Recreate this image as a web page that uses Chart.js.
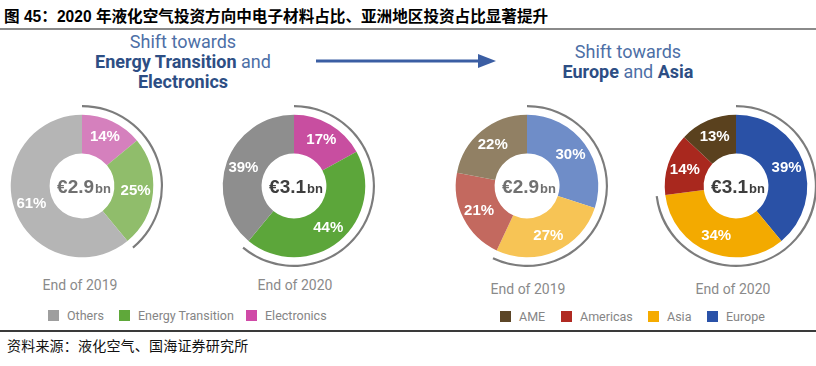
<!DOCTYPE html>
<html><head><meta charset="utf-8">
<script src="https://cdn.jsdelivr.net/npm/chart.js@4/dist/chart.umd.min.js"></script>
<style>
body{margin:0;width:816px;height:366px;background:#fff;position:relative;overflow:hidden;font-family:Roboto,"Noto Sans",sans-serif}
.abs{position:absolute;white-space:nowrap}
.title{left:4px;top:4px;font:bold 15.6px "Liberation Sans","Noto Sans CJK SC",sans-serif;color:#000}
.title .cjk{font-family:"Noto Sans CJK SC",sans-serif;font-weight:bold}
.rule1{left:0;top:28px;width:816px;height:2px;background:#8a8a8a}
.rule2{left:0;top:330px;width:816px;height:2px;background:#3a3a3a}
.source{left:7px;top:336px;font:14px "Noto Sans CJK SC",sans-serif;color:#111;line-height:18px;letter-spacing:0.2px}
.head{font-size:18px;color:#4d6fa6;text-align:center;line-height:20px;transform:translateX(-50%)}
.head b{color:#2d4e84;font-weight:bold}
.year{font-size:14px;color:#8a8a8a;transform:translateX(-50%)}
.leg{font-size:12.5px;color:#858585;line-height:14px}
.sq{position:absolute;width:11px;height:11px}
canvas{position:absolute}
</style></head><body>
<div class="abs title">图 45<span class="cjk">：</span>2020 <span class="cjk">年液化空气投资方向中电子材料占比、亚洲地区投资占比显著提升</span></div>
<div class="abs rule1"></div>
<div class="abs head" style="left:183px;top:32px">Shift towards<br><b>Energy Transition</b> and<br><b>Electronics</b></div>
<div class="abs head" style="left:628px;top:42px">Shift towards<br><b>Europe</b> and <b>Asia</b></div>
<svg class="abs" style="left:310px;top:50px" width="200" height="22"><line x1="6" y1="11" x2="172" y2="11" stroke="#3b5ea3" stroke-width="3"/><polygon points="168,4 186,11 168,18" fill="#3b5ea3"/></svg>
<canvas id="c0" width="180" height="180" style="left:-8px;top:96px"></canvas>
<canvas id="c1" width="180" height="180" style="left:204px;top:96px"></canvas>
<canvas id="c2" width="180" height="180" style="left:437px;top:96px"></canvas>
<canvas id="c3" width="180" height="180" style="left:646px;top:96px"></canvas>
<div id="years"></div>
<div id="legends"></div>
<div class="abs rule2"></div>
<div class="abs source">资料来源：液化空气、国海证券研究所</div>
<script>
// ---- data ----
const techCategories = ['Electronics', 'Energy Transition', 'Others'];
const tech2019 = [14, 25, 61];
const tech2020 = [17, 44, 39];
const regionCategories = ['Europe', 'Asia', 'Americas', 'AME'];
const region2019 = [30, 27, 21, 22];
const region2020 = [39, 34, 14, 13];
const totalLabels = ['€2.9', '€3.1', '€2.9', '€3.1'];
const totalUnit = 'bn';
const yearLabels = ['End of 2019', 'End of 2020', 'End of 2019', 'End of 2020'];
const techLegend = ['Others', 'Energy Transition', 'Electronics'];
const regionLegend = ['AME', 'Americas', 'Asia', 'Europe'];
const highlightCount = 2; // segments covered by the outer arc

// ---- styles ----
const techColors2019 = ['#d580bd', '#90bd6b', '#b5b5b5'];
const techColors2020 = ['#c84ea0', '#5ca63a', '#8e8e8e'];
const regionColors2019 = ['#6f8dc8', '#f7c455', '#c3695f', '#918064'];
const regionColors2020 = ['#2a51a6', '#f3aa00', '#a9281e', '#5a411e'];
const legendColorsTech = {'Others':'#9e9e9e','Energy Transition':'#5fa83a','Electronics':'#d04aa7'};
const legendColorsRegion = {'AME':'#5c4627','Americas':'#b02a22','Asia':'#f5ab00','Europe':'#2a52a8'};

const labelPlugin = {
  id: 'segLabels',
  afterDatasetsDraw(chart, args, opts) {
    const ctx = chart.ctx;
    const meta = chart.getDatasetMeta(2);
    const data = chart.data.datasets[2].data;
    ctx.save();
    ctx.fillStyle = '#ffffff';
    ctx.font = 'bold 15px "Liberation Sans", Arial, sans-serif';
    ctx.textAlign = 'center';
    ctx.textBaseline = 'middle';
    meta.data.forEach((arc, i) => {
      const a = (arc.startAngle + arc.endAngle) / 2;
      const r = arc.innerRadius + (arc.outerRadius - arc.innerRadius) * 0.55;
      ctx.fillText(data[i] + '%', arc.x + Math.cos(a) * r, arc.y + Math.sin(a) * r);
    });
    // center total
    const cx = (chart.chartArea.left + chart.chartArea.right) / 2;
    const cy = (chart.chartArea.top + chart.chartArea.bottom) / 2;
    ctx.fillStyle = opts.color;
    ctx.textBaseline = 'alphabetic';
    ctx.font = 'bold 19px "Liberation Sans", Arial, sans-serif';
    const w1 = ctx.measureText(opts.text).width;
    ctx.font = 'bold 13px "Liberation Sans", Arial, sans-serif';
    const w2 = ctx.measureText(totalUnit).width;
    const x0 = cx - (w1 + w2 + 1) / 2 + 2;
    ctx.textAlign = 'left';
    ctx.font = 'bold 19px "Liberation Sans", Arial, sans-serif';
    ctx.fillText(opts.text, x0, cy + 7);
    ctx.font = 'bold 13px "Liberation Sans", Arial, sans-serif';
    ctx.fillText(totalUnit, x0 + w1 + 1, cy + 7);
    ctx.restore();
  }
};

function makeDonut(id, cats, values, colors, text, textColor) {
  const hl = values.slice(0, highlightCount).reduce((a, b) => a + b, 0);
  const rest = values.slice(highlightCount).reduce((a, b) => a + b, 0);
  new Chart(document.getElementById(id), {
    type: 'doughnut',
    data: {
      labels: cats,
      datasets: [
        {data: [hl, rest], backgroundColor: ['#7c7c7c', 'rgba(0,0,0,0)'], weight: 2, borderWidth: 0},
        {data: [hl, rest], backgroundColor: ['rgba(0,0,0,0)', 'rgba(0,0,0,0)'], weight: 7, borderWidth: 0},
        {data: values, backgroundColor: colors, weight: 36, borderWidth: 0}
      ]
    },
    options: {
      responsive: false, animation: false, events: [],
      radius: 81, cutout: 36, hoverOffset: 0,
      layout: {padding: 0},
      plugins: {legend: {display: false}, tooltip: {enabled: false},
        segLabels: {text: text, color: textColor}}
    },
    plugins: [labelPlugin]
  });
}

makeDonut('c0', techCategories, tech2019, techColors2019, totalLabels[0], '#707070');
makeDonut('c1', techCategories, tech2020, techColors2020, totalLabels[1], '#3e3e3e');
makeDonut('c2', regionCategories, region2019, regionColors2019, totalLabels[2], '#707070');
makeDonut('c3', regionCategories, region2020, regionColors2020, totalLabels[3], '#3e3e3e');

// year labels
const yearPos = [[80, 277], [295, 277], [528, 281], [733, 281]];
const yd = document.getElementById('years');
yearLabels.forEach((t, i) => {
  const d = document.createElement('div');
  d.className = 'abs year';
  d.style.left = yearPos[i][0] + 'px';
  d.style.top = yearPos[i][1] + 'px';
  d.textContent = t;
  yd.appendChild(d);
});

// legends
const ld = document.getElementById('legends');
function legend(items, colors, xs, top) {
  items.forEach((t, i) => {
    const sq = document.createElement('div');
    sq.className = 'sq';
    sq.style.left = xs[i] + 'px';
    sq.style.top = top + 'px';
    sq.style.background = colors[t];
    ld.appendChild(sq);
    const d = document.createElement('div');
    d.className = 'abs leg';
    d.style.left = (xs[i] + 19) + 'px';
    d.style.top = (top - 1) + 'px';
    d.textContent = t;
    ld.appendChild(d);
  });
}
legend(techLegend, legendColorsTech, [48, 119, 246], 310);
legend(regionLegend, legendColorsRegion, [500, 561, 648, 707], 311);
</script>
</body></html>
